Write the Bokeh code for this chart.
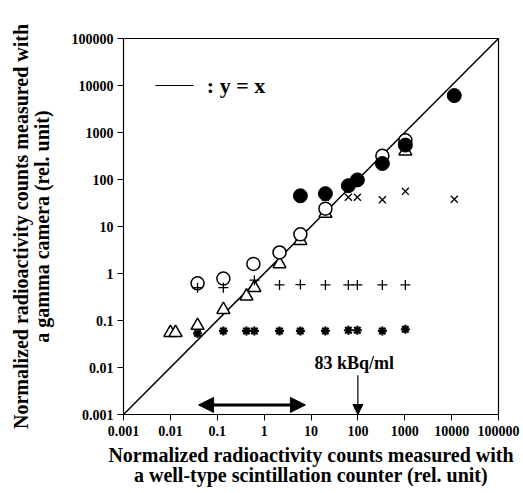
from bokeh.plotting import figure
from bokeh.models import Range1d, FixedTicker, CustomJSTickFormatter, Label, Arrow, NormalHead
from bokeh.embed import file_html
from bokeh.resources import INLINE

# ---- data ----
decade_ticks = [0.001, 0.01, 0.1, 1, 10, 100, 1000, 10000, 100000]

filled_x = [5.94, 20.3, 62.7, 97.5, 333, 1030, 11400]
filled_y = [45, 50, 74, 98, 219, 540, 6100]

open_x = [0.038, 0.135, 0.59, 2.13, 5.94, 20.3, 333, 1030]
open_y = [0.62, 0.78, 1.6, 2.8, 6.8, 24, 320, 680]

tri_x = [0.0100, 0.0129, 0.038, 0.135, 0.42, 0.62, 2.13, 5.94, 20.3, 1030]
tri_y = [0.055, 0.055, 0.078, 0.17, 0.33, 0.5, 1.6, 5.0, 19, 400]

plus_x = [0.038, 0.135, 0.62, 2.13, 5.94, 20.3, 62.7, 97.5, 333, 1030]
plus_y = [0.5, 0.5, 0.72, 0.57, 0.58, 0.57, 0.57, 0.57, 0.57, 0.57]

ast_x = [0.038, 0.135, 0.42, 0.62, 2.13, 5.94, 20.3, 62.7, 97.5, 333, 1030]
ast_y = [0.053, 0.06, 0.06, 0.06, 0.06, 0.06, 0.06, 0.062, 0.062, 0.06, 0.065]

cross_x = [5.94, 20.3, 62.7, 97.5, 333, 1030, 11400]
cross_y = [40, 42, 42, 42, 37, 56, 38]

FONT = "Liberation Serif"

p = figure(width=523, height=493, x_axis_type="log", y_axis_type="log",
           x_range=Range1d(0.001, 100000), y_range=Range1d(0.001, 100000),
           output_backend="svg", toolbar_location=None,
           min_border_left=123, min_border_right=25, min_border_top=38, min_border_bottom=79)

p.xgrid.visible = False
p.ygrid.visible = False
p.outline_line_color = "black"
p.outline_line_width = 1.2
p.background_fill_color = "white"
p.border_fill_color = "white"

fmt = CustomJSTickFormatter(code="""
if (tick >= 1) { return Math.round(tick).toString(); }
return parseFloat(tick.toPrecision(1)).toString();
""")
for ax in (p.xaxis[0], p.yaxis[0]):
    ax.ticker = FixedTicker(ticks=decade_ticks)
    ax.formatter = fmt
    ax.minor_tick_line_color = None
    ax.major_tick_out = 6
    ax.major_tick_in = 0
    ax.axis_line_color = "black"
    ax.major_tick_line_color = "black"
    ax.major_label_text_font = FONT
    ax.major_label_text_font_style = "bold"
    ax.major_label_text_font_size = "14px"
    ax.major_label_text_color = "black"
    ax.axis_label_text_font = FONT
    ax.axis_label_text_font_style = "bold"
    ax.axis_label_text_font_size = "20px"
    ax.axis_label_text_line_height = 0.95
    ax.axis_label_text_color = "black"

p.xaxis.axis_label = "Normalized radioactivity counts measured with\na well-type scintillation counter (rel. unit)"
p.yaxis.axis_label = "Normalized radioactivity counts measured with\na gamma camera (rel. unit)"
p.xaxis.axis_label_standoff = 5
p.yaxis.axis_label_standoff = 16
p.xaxis.major_label_standoff = 5
p.yaxis.major_label_standoff = 4

# identity line
p.line([decade_ticks[0], decade_ticks[-1]], [decade_ticks[0], decade_ticks[-1]],
       line_color="black", line_width=1.5)

# markers
p.scatter(tri_x, tri_y, marker="triangle", size=13, fill_color="white",
          line_color="black", line_width=1.5)
p.scatter(open_x, open_y, marker="circle", size=13, fill_color="white",
          line_color="black", line_width=1.5)
p.scatter(plus_x, plus_y, marker="cross", size=10, line_color="black", line_width=1.3)
p.scatter(ast_x, ast_y, marker="asterisk", size=9, line_color="black", line_width=2.2)
p.scatter(cross_x, cross_y, marker="x", size=10, line_color="black", line_width=1.3)
p.scatter(filled_x, filled_y, marker="circle", size=14, fill_color="black",
          line_color="black", line_width=1)

# key: line = y = x
p.line([0.0048, 0.031], [10000, 10000], line_color="black", line_width=1)
p.add_layout(Label(x=0.06, y=10000, text=": y = x", text_font=FONT,
                   text_font_style="bold", text_font_size="22px",
                   text_baseline="middle", text_align="left", text_color="black"))

# 83 kBq/ml arrow
p.add_layout(Label(x=84, y=0.0125, text="83 kBq/ml", text_font=FONT,
                   text_font_style="bold", text_font_size="18px",
                   text_baseline="middle", text_align="center", text_color="black"))
p.add_layout(Arrow(x_start=100, y_start=0.0068, x_end=100, y_end=0.001,
                   line_color="black", line_width=1.2,
                   end=NormalHead(size=10, fill_color="black", line_color="black")))

# double-headed range arrow
p.add_layout(Arrow(x_start=0.04, y_start=0.0016, x_end=7.6, y_end=0.0016,
                   line_color="black", line_width=3,
                   start=NormalHead(size=15, fill_color="black", line_color="black"),
                   end=NormalHead(size=15, fill_color="black", line_color="black")))

open("out.html", "w").write(file_html(p, INLINE))
